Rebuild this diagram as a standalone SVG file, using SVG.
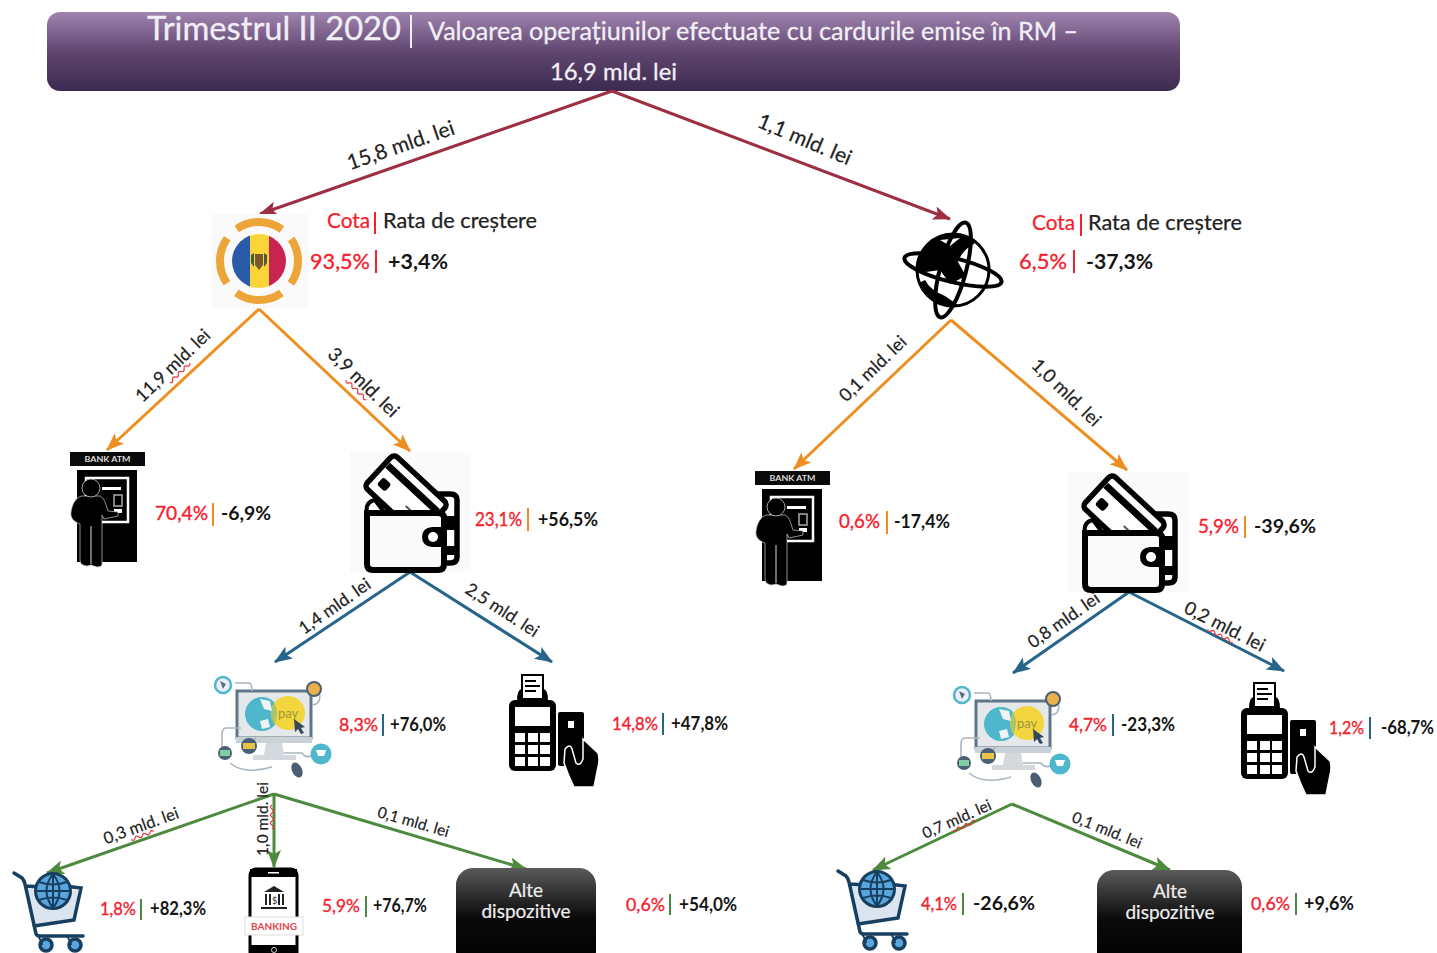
<svg xmlns="http://www.w3.org/2000/svg" xmlns:xlink="http://www.w3.org/1999/xlink" width="1437" height="953" viewBox="0 0 1437 953">
<style>
text{font-family:"Lato","Open Sans","Liberation Sans",sans-serif}
.lbl{fill:#222;text-anchor:middle;stroke:#222;stroke-width:.2}
.r{font-size:19px;fill:#f5202c;stroke:#f5202c;stroke-width:.35}
.k{font-size:19px;fill:#151515;font-weight:700}
.h{font-size:21px;stroke-width:.25}
.sq{fill:none;stroke:#e8323c;stroke-width:1.2}
.c{fill:none;stroke-width:3}
.dr{stroke:#9c2f43}.or{stroke:#ee8e1f}.bl{stroke:#27648a}.gr{stroke:#4d8a3d}
.sep{stroke-width:2}
.alt{font-size:19px;fill:#eee;text-anchor:middle;stroke:#eee;stroke-width:.2}
.ht{fill:#f2eef5;stroke:#f2eef5;stroke-width:.3}
</style>
<defs>
<linearGradient id="hdr" x1="0" y1="0" x2="0" y2="1"><stop offset="0" stop-color="#9f84b0"/><stop offset="0.5" stop-color="#604670"/><stop offset="1" stop-color="#3d2a50"/></linearGradient>
<linearGradient id="blk" x1="0" y1="0" x2="0" y2="1"><stop offset="0" stop-color="#5a5a5a"/><stop offset="0.5" stop-color="#0a0a0a"/><stop offset="1" stop-color="#000"/></linearGradient>
<marker id="mdr" markerUnits="userSpaceOnUse" markerWidth="20" markerHeight="16" refX="17" refY="8" orient="auto"><path d="M0 1L18 8L0 15L4 8Z" fill="#9c2f43"/></marker>
<marker id="mor" markerUnits="userSpaceOnUse" markerWidth="20" markerHeight="16" refX="17" refY="8" orient="auto"><path d="M0 1L18 8L0 15L4 8Z" fill="#ee8e1f"/></marker>
<marker id="mbl" markerUnits="userSpaceOnUse" markerWidth="20" markerHeight="16" refX="17" refY="8" orient="auto"><path d="M0 1L18 8L0 15L4 8Z" fill="#27648a"/></marker>
<marker id="mgr" markerUnits="userSpaceOnUse" markerWidth="20" markerHeight="16" refX="17" refY="8" orient="auto"><path d="M0 1L18 8L0 15L4 8Z" fill="#4d8a3d"/></marker>
<clipPath id="fc"><circle cx="259" cy="261" r="27"/></clipPath>
<clipPath id="gc"><circle cx="953" cy="270" r="36"/></clipPath>
<symbol id="atm" width="76" height="116" viewBox="0 0 76 116" overflow="visible">
<rect x="0" y="0" width="75" height="14" fill="#0a0a0a"/>
<text x="37.5" y="10" font-size="8" font-weight="700" fill="#ddd" text-anchor="middle" textLength="46" lengthAdjust="spacingAndGlyphs">BANK ATM</text>
<rect x="7" y="18" width="60" height="92" fill="#000"/>
<rect x="16" y="26" width="42" height="44" fill="#000" stroke="#fff" stroke-width="2.5"/>
<rect x="32" y="35" width="19" height="3" fill="#fff"/>
<rect x="44" y="43" width="8" height="11" fill="none" stroke="#aaa" stroke-width="1.5"/>
<rect x="44" y="57" width="8" height="4" fill="#fff"/>
<path d="M12 44H30C35 46 36 54 38 59L48 60V64L34 67L32 63V112Q32 115 27 115L21 113Q16 115 13 113Q10 112 10 108V72C4 70 0 66 1 60C2 52 6 45 12 44Z" fill="#000" stroke="#ccc" stroke-width="0.7"/>
<circle cx="21" cy="36" r="9" fill="#000" stroke="#ccc" stroke-width="0.8"/>
<path d="M21 74V112" stroke="#ddd" stroke-width="1"/>
</symbol>
<symbol id="wallet" width="122" height="122" viewBox="0 0 122 122" overflow="visible">
<rect x="0" y="0" width="121" height="120" fill="#fafafa"/>
<path d="M82 42H100Q107 42 107 48V105Q107 111 100 111H92" fill="#fff" stroke="#000" stroke-width="5.5"/>
<path d="M88 64H107V78H88Z" fill="#000"/>
<path d="M88 94H107V103H88Z" fill="#000"/>
<g transform="translate(44,2) rotate(43)"><rect x="0" y="0" width="74" height="44" rx="5" fill="#fff" stroke="#000" stroke-width="5.5"/><rect x="3" y="9" width="68" height="7" fill="#000"/><rect x="8" y="24" width="11" height="10" rx="3" fill="#000"/><path d="M44 30H64M48 36H62" stroke="#555" stroke-width="2"/></g>
<path d="M17 61V112Q17 118 23 118H88Q94 118 94 112V66Q94 61 88 61Z" fill="#fafafa" stroke="#000" stroke-width="6"/>
<path d="M17 60Q15 50 25 48L34 60Z" fill="#fff" stroke="#000" stroke-width="4"/>
<path d="M96 75H82Q72 76 72 85Q72 94 82 95H96Z" fill="#000"/>
<circle cx="83" cy="85" r="5" fill="#fff"/>
</symbol>
<symbol id="pc" width="120" height="108" viewBox="0 0 120 108" overflow="visible">
<rect x="23" y="16" width="74" height="47" fill="#e5e8ea" stroke="#5f7688" stroke-width="3"/>
<rect x="22" y="62" width="76" height="6" fill="#c9d2d8"/>
<path d="M52 68H68L70 80H82V85H39V80H50Z" fill="#d3d9dd"/>
<circle cx="48" cy="39" r="17" fill="#4fb7cc"/>
<circle cx="74" cy="38" r="17" fill="#f3d53d"/>
<path d="M60 27Q66 38 60 50Q54 38 60 27Z" fill="#a9c66a"/>
<path d="M46 24L56 26L58 36L50 34Z M46 46L54 44L56 52L48 54Z" fill="#eef4f4"/>
<text x="64" y="43" font-size="13" fill="#9a9a40">pay</text>
<path d="M80 44L91 52L87 53L90 58L87 59L84 54L81 57Z" fill="#33495c"/>
<path d="M21 8H35Q38 8 38 16M98 30Q106 30 106 20M27 53H12Q8 53 8 60V72M42 62L34 74M70 78H88Q92 84 100 80M16 88Q30 100 58 92" fill="none" stroke="#a9b6c0" stroke-width="1.6"/>
<circle cx="9" cy="10" r="8" fill="#eef" stroke="#4fb7cc" stroke-width="2.5"/>
<path d="M6 6L12 9L9 14Z" fill="#5a6e80"/>
<circle cx="100" cy="14" r="7" fill="#eab14a" stroke="#4a5f74" stroke-width="2"/>
<circle cx="11" cy="78" r="7" fill="#4a5f74"/><rect x="6" y="75" width="10" height="6" fill="#7fd0a0"/>
<circle cx="35" cy="71" r="8" fill="#4a5f74"/><rect x="29" y="68" width="12" height="6" fill="#e9c24a"/>
<circle cx="107" cy="79" r="10.5" fill="#4fb7cc"/><path d="M102 75H112L110 81H104Z" fill="#fff"/>
<ellipse cx="83" cy="95" rx="5" ry="8" transform="rotate(-25 83 95)" fill="#4a5f74"/>
</symbol>
<symbol id="pos" width="95" height="116" viewBox="0 0 95 116" overflow="visible">
<rect x="14" y="0" width="21" height="24" fill="#fff" stroke="#000" stroke-width="2"/>
<path d="M17 6H28M17 11H32M17 16H28" stroke="#000" stroke-width="2"/>
<path d="M9 26Q9 14 14 14V26ZM40 26Q40 14 35 14V26Z" fill="#000"/>
<rect x="1" y="25" width="47" height="71" rx="6" fill="#000"/>
<rect x="7" y="32" width="35" height="19" fill="#fff"/>
<g fill="#fff"><rect x="7" y="58" width="10" height="9"/><rect x="20" y="58" width="10" height="9"/><rect x="32" y="58" width="10" height="9"/><rect x="7" y="70" width="10" height="9"/><rect x="20" y="70" width="10" height="9"/><rect x="32" y="70" width="10" height="9"/><rect x="7" y="82" width="10" height="9"/><rect x="20" y="82" width="10" height="9"/><rect x="32" y="82" width="10" height="9"/></g>
<rect x="50" y="37" width="26" height="54" rx="2" fill="#000"/>
<rect x="60" y="46" width="6" height="7" fill="#fff"/>
<path d="M57 74Q62 68 64 74L68 88Q72 92 75 84V64L90 78Q92 84 90 92L86 112H66Q60 100 56 88Z" fill="#000" stroke="#fff" stroke-width="1.5"/>
</symbol>
<symbol id="cart" width="76" height="84" viewBox="0 0 76 84" overflow="visible">
<path d="M15 16L66 20L62 52L22 56Z" fill="#dbe5f0"/>
<path d="M2 3L10 8Q12 10 13 14L24 64Q25 66 28 66H71M22 56L62 50L69 18L52 16M14 16L30 17" fill="none" stroke="#173f60" stroke-width="3.5" stroke-linecap="round"/>
<circle cx="41" cy="21" r="17.5" fill="#5aa5dc" stroke="#173f60" stroke-width="3"/>
<path d="M24 21H58M41 4V38M27 12Q41 17 55 12M27 30Q41 25 55 30M41 4Q28 21 41 38Q54 21 41 4" fill="none" stroke="#173f60" stroke-width="2"/>
<circle cx="34" cy="75" r="6" fill="#5aa5dc" stroke="#173f60" stroke-width="3.5"/>
<circle cx="63" cy="75" r="6" fill="#5aa5dc" stroke="#173f60" stroke-width="3.5"/>
<path d="M26 66Q30 72 30 75M55 66Q59 72 59 75" fill="none" stroke="#173f60" stroke-width="2"/>
</symbol>
</defs>

<rect width="1437" height="953" fill="#fff"/>

<g id="header">
<rect x="47" y="12" width="1133" height="79" rx="13" fill="url(#hdr)"/>
<text class="ht" x="147" y="40" font-size="32" textLength="254" lengthAdjust="spacingAndGlyphs">Trimestrul II 2020</text>
<path d="M411 15V48" stroke="#f2eef5" stroke-width="2"/>
<text class="ht" x="428" y="40" font-size="25" textLength="650" lengthAdjust="spacingAndGlyphs">Valoarea operațiunilor efectuate cu cardurile emise în RM –</text>
<text class="ht" x="550" y="80" font-size="24" textLength="127" lengthAdjust="spacingAndGlyphs">16,9 mld. lei</text>
</g>

<g id="connectors">
<path class="c dr" d="M612 91L260 214" marker-end="url(#mdr)"/>
<path class="c dr" d="M612 91L950 219" marker-end="url(#mdr)"/>
<path class="c or" d="M259 309L107 450" marker-end="url(#mor)"/>
<path class="c or" d="M259 309L410 451" marker-end="url(#mor)"/>
<path class="c or" d="M951 320L794 469" marker-end="url(#mor)"/>
<path class="c or" d="M951 320L1127 470" marker-end="url(#mor)"/>
<path class="c bl" d="M410 572L275 662" marker-end="url(#mbl)"/>
<path class="c bl" d="M410 572L552 662" marker-end="url(#mbl)"/>
<path class="c bl" d="M1129 592L1013 673" marker-end="url(#mbl)"/>
<path class="c bl" d="M1129 592L1284 671" marker-end="url(#mbl)"/>
<path class="c gr" d="M274 794L47 873" marker-end="url(#mgr)"/>
<path class="c gr" d="M274 794V867" marker-end="url(#mgr)"/>
<path class="c gr" d="M274 794L526 869" marker-end="url(#mgr)"/>
<path class="c gr" d="M1012 804L873 870" marker-end="url(#mgr)"/>
<path class="c gr" d="M1012 804L1170 870" marker-end="url(#mgr)"/>
</g>

<g id="connector-labels">
<g transform="translate(403,152) rotate(-19)"><text class="lbl" font-size="21">15,8 mld. lei</text></g>
<g transform="translate(802,146) rotate(23)"><text class="lbl" font-size="21">1,1 mld. lei</text></g>
<g transform="translate(177,370) rotate(-44)"><text class="lbl" font-size="18">11,9 mld. lei</text><path class="sq" d="M-14 4q2 3 4 0t4 0t4 0t4 0t4 0t4 0t4 0"/></g>
<g transform="translate(359,387) rotate(44)"><text class="lbl" font-size="19">3,9 mld. lei</text><path class="sq" d="M-14 4q2 3 4 0t4 0t4 0t4 0t4 0t4 0t4 0"/></g>
<g transform="translate(877,373) rotate(-44)"><text class="lbl" font-size="18">0,1 mld. lei</text></g>
<g transform="translate(1062,397) rotate(44)"><text class="lbl" font-size="18.500">1,0 mld. lei</text></g>
<g transform="translate(338,611) rotate(-35)"><text class="lbl" font-size="17.500">1,4 mld. lei</text></g>
<g transform="translate(499,615) rotate(33)"><text class="lbl" font-size="17.500">2,5 mld. lei</text></g>
<g transform="translate(1067,625) rotate(-35)"><text class="lbl" font-size="17.500">0,8 mld. lei</text></g>
<g transform="translate(1222,632) rotate(27)"><text class="lbl" font-size="18.500">0,2 mld. lei</text><path class="sq" d="M-14 4q2 3 4 0t4 0t4 0t4 0t4 0t4 0t4 0"/></g>
<g transform="translate(143,831) rotate(-20)"><text class="lbl" font-size="16.500">0,3 mld. lei</text><path class="sq" d="M-14 4q2 3 4 0t4 0t4 0t4 0t4 0t4 0"/></g>
<g transform="translate(268,819) rotate(-90)"><text class="lbl" font-size="15.500">1,0 mld. lei</text><path class="sq" d="M-10 4q2 3 4 0t4 0t4 0t4 0t4 0t4 0"/></g>
<g transform="translate(412,827) rotate(16)"><text class="lbl" font-size="15.500">0,1 mld. lei</text></g>
<g transform="translate(959,824) rotate(-24)"><text class="lbl" font-size="15.500">0,7 mld. lei</text><path class="sq" d="M-8 4q2 3 4 0t4 0t4 0t4 0t4 0t4 0"/></g>
<g transform="translate(1105,835) rotate(22)"><text class="lbl" font-size="15.500">0,1 mld. lei</text></g>
</g>

<g id="node-moldova">
<rect x="212" y="214" width="96" height="94" fill="#fafafa"/>
<circle cx="259" cy="261" r="39" fill="none" stroke="#eda53a" stroke-width="8" stroke-dasharray="48 13.3" stroke-dashoffset="24"/>
<g clip-path="url(#fc)"><rect x="232" y="234" width="18" height="54" fill="#2a5ba8"/><rect x="250" y="234" width="19" height="54" fill="#fbd437"/><rect x="269" y="234" width="18" height="54" fill="#c9234f"/></g>
<path d="M255 254H263V265L259 270L255 265Z" fill="#7a5a2c"/><path d="M251 255L254 253V267L251 263ZM267 255L264 253V267L267 263Z" fill="#4a5a3c"/>
<text class="h r" x="327" y="228" textLength="43" lengthAdjust="spacingAndGlyphs" style="font-size:21px">Cota</text>
<path class="sep" d="M375 212V234" stroke="#f5202c"/>
<text class="h lbl" x="460" y="228" textLength="154" lengthAdjust="spacingAndGlyphs" font-size="21">Rata de creștere</text>
<text class="r" x="310" y="269" textLength="60" lengthAdjust="spacingAndGlyphs" style="font-size:22px">93,5%</text>
<path class="sep" d="M376 250V273" stroke="#f5202c"/>
<text class="k" x="388" y="269" textLength="60" lengthAdjust="spacingAndGlyphs" style="font-size:21px">+3,4%</text>
</g>

<g id="node-globe">
<circle cx="953" cy="270" r="36" fill="#fff" stroke="#000" stroke-width="3"/>
<g clip-path="url(#gc)"><path d="M915 270V232H978L974 244Q962 250 958 262L966 276L950 284L940 270L926 272ZM915 285L940 310H965L945 296Q930 290 925 280Z" fill="#000"/><path d="M940 240L960 238L950 246ZM968 272L985 280L972 284Z" fill="#fff"/></g>
<ellipse cx="953" cy="270" rx="50" ry="12" transform="rotate(14 953 270)" fill="none" stroke="#000" stroke-width="4"/>
<ellipse cx="953" cy="270" rx="49" ry="13" transform="rotate(105 953 270)" fill="none" stroke="#000" stroke-width="4"/>
<text class="h r" x="1032" y="230" textLength="43" lengthAdjust="spacingAndGlyphs" style="font-size:21px">Cota</text>
<path class="sep" d="M1081 214V236" stroke="#f5202c"/>
<text class="h lbl" x="1165" y="230" textLength="154" lengthAdjust="spacingAndGlyphs" font-size="21">Rata de creștere</text>
<text class="r" x="1019" y="269" textLength="48" lengthAdjust="spacingAndGlyphs" style="font-size:22px">6,5%</text>
<path class="sep" d="M1074 250V273" stroke="#f5202c"/>
<text class="k" x="1086" y="269" textLength="67" lengthAdjust="spacingAndGlyphs" style="font-size:21px">-37,3%</text>
</g>

<g id="node-atm-rm">
<use xlink:href="#atm" href="#atm" x="70" y="452"/>
<text class="r" x="155" y="520" textLength="53" lengthAdjust="spacingAndGlyphs">70,4%</text>
<path class="sep" d="M213 503V526" stroke="#ee8e1f"/>
<text class="k" x="221" y="520" textLength="50" lengthAdjust="spacingAndGlyphs">-6,9%</text>
</g>
<g id="node-wallet-rm">
<use xlink:href="#wallet" href="#wallet" x="350" y="452"/>
<text class="r" x="475" y="526" textLength="47" lengthAdjust="spacingAndGlyphs">23,1%</text>
<path class="sep" d="M528 508V531" stroke="#ee8e1f"/>
<text class="k" x="538" y="526" textLength="60" lengthAdjust="spacingAndGlyphs">+56,5%</text>
</g>
<g id="node-atm-ext">
<use xlink:href="#atm" href="#atm" x="755" y="471"/>
<text class="r" x="839" y="528" textLength="41" lengthAdjust="spacingAndGlyphs">0,6%</text>
<path class="sep" d="M887 511V534" stroke="#ee8e1f"/>
<text class="k" x="894" y="528" textLength="56" lengthAdjust="spacingAndGlyphs">-17,4%</text>
</g>
<g id="node-wallet-ext">
<use xlink:href="#wallet" href="#wallet" x="1068" y="472"/>
<text class="r" x="1198" y="533" textLength="41" lengthAdjust="spacingAndGlyphs">5,9%</text>
<path class="sep" d="M1245 516V538" stroke="#ee8e1f"/>
<text class="k" x="1254" y="533" textLength="62" lengthAdjust="spacingAndGlyphs">-39,6%</text>
</g>
<g id="node-pc-rm">
<use xlink:href="#pc" href="#pc" x="214" y="675"/>
<text class="r" x="339" y="731" textLength="39" lengthAdjust="spacingAndGlyphs" style="font-size:18px">8,3%</text>
<path class="sep" d="M383 714V736" stroke="#27648a"/>
<text class="k" x="390" y="731" textLength="56" lengthAdjust="spacingAndGlyphs" style="font-size:18px">+76,0%</text>
</g>
<g id="node-pos-rm">
<use xlink:href="#pos" href="#pos" x="508" y="675"/>
<text class="r" x="612" y="730" textLength="46" lengthAdjust="spacingAndGlyphs" style="font-size:18px">14,8%</text>
<path class="sep" d="M663 713V735" stroke="#27648a"/>
<text class="k" x="671" y="730" textLength="57" lengthAdjust="spacingAndGlyphs" style="font-size:18px">+47,8%</text>
</g>
<g id="node-pc-ext">
<use xlink:href="#pc" href="#pc" x="953" y="685"/>
<text class="r" x="1069" y="731" textLength="38" lengthAdjust="spacingAndGlyphs" style="font-size:18px">4,7%</text>
<path class="sep" d="M1113 714V736" stroke="#27648a"/>
<text class="k" x="1121" y="731" textLength="54" lengthAdjust="spacingAndGlyphs" style="font-size:18px">-23,3%</text>
</g>
<g id="node-pos-ext">
<use xlink:href="#pos" href="#pos" x="1240" y="683"/>
<text class="r" x="1329" y="734" textLength="35" lengthAdjust="spacingAndGlyphs" style="font-size:18px">1,2%</text>
<path class="sep" d="M1370 717V739" stroke="#27648a"/>
<text class="k" x="1381" y="734" textLength="53" lengthAdjust="spacingAndGlyphs" style="font-size:18px">-68,7%</text>
</g>
<g id="node-cart-rm">
<use xlink:href="#cart" href="#cart" x="12" y="870"/>
<text class="r" x="100" y="915" textLength="36" lengthAdjust="spacingAndGlyphs" style="font-size:18px">1,8%</text>
<path class="sep" d="M141 899V920" stroke="#4d8a3d"/>
<text class="k" x="150" y="915" textLength="56" lengthAdjust="spacingAndGlyphs" style="font-size:18px">+82,3%</text>
</g>
<g id="node-phone-rm">
<rect x="250" y="869" width="47" height="92" rx="6" fill="#fff" stroke="#000" stroke-width="3"/>
<rect x="250" y="869" width="47" height="8" fill="#000"/>
<rect x="268" y="872" width="11" height="1.500" fill="#fff"/>
<rect x="250" y="945" width="47" height="10" fill="#000"/>
<circle cx="274" cy="950" r="2.500" fill="none" stroke="#ccc"/>
<path d="M264 892L274 886L284 892Z" fill="#222"/><path d="M266 894V905M270 894V905M279 894V905M283 894V905" stroke="#222" stroke-width="2"/><path d="M261 908H287" stroke="#222" stroke-width="2"/>
<text x="274.500" y="904" font-size="9" fill="#333" text-anchor="middle">$</text>
<rect x="245" y="917" width="58" height="18" fill="#fff" stroke="#ddd"/>
<text x="274" y="930" font-size="10" font-weight="700" fill="#e5434d" text-anchor="middle" textLength="46" lengthAdjust="spacingAndGlyphs">BANKING</text>
<text class="r" x="322" y="912" textLength="38" lengthAdjust="spacingAndGlyphs" style="font-size:18px">5,9%</text>
<path class="sep" d="M366 896V917" stroke="#4d8a3d"/>
<text class="k" x="373" y="912" textLength="54" lengthAdjust="spacingAndGlyphs" style="font-size:18px">+76,7%</text>
</g>
<g id="node-alte-rm">
<rect x="456" y="868" width="140" height="100" rx="17" fill="url(#blk)"/>
<text class="alt" x="526" y="897">Alte</text><text class="alt" x="526" y="918">dispozitive</text>
<text class="r" x="626" y="911" textLength="39" lengthAdjust="spacingAndGlyphs" style="font-size:18px">0,6%</text>
<path class="sep" d="M670 894V915" stroke="#4d8a3d"/>
<text class="k" x="679" y="911" textLength="58" lengthAdjust="spacingAndGlyphs" style="font-size:18px">+54,0%</text>
</g>
<g id="node-cart-ext">
<use xlink:href="#cart" href="#cart" x="836" y="868"/>
<text class="r" x="921" y="910" textLength="36" lengthAdjust="spacingAndGlyphs" style="font-size:18px">4,1%</text>
<path class="sep" d="M963 893V915" stroke="#4d8a3d"/>
<text class="k" x="973" y="910" textLength="62" lengthAdjust="spacingAndGlyphs" style="font-size:18px">-26,6%</text>
</g>
<g id="node-alte-ext">
<rect x="1097" y="870" width="145" height="100" rx="17" fill="url(#blk)"/>
<text class="alt" x="1170" y="898">Alte</text><text class="alt" x="1170" y="919">dispozitive</text>
<text class="r" x="1251" y="910" textLength="39" lengthAdjust="spacingAndGlyphs" style="font-size:18px">0,6%</text>
<path class="sep" d="M1296 893V915" stroke="#4d8a3d"/>
<text class="k" x="1304" y="910" textLength="50" lengthAdjust="spacingAndGlyphs" style="font-size:18px">+9,6%</text>
</g>
</svg>
